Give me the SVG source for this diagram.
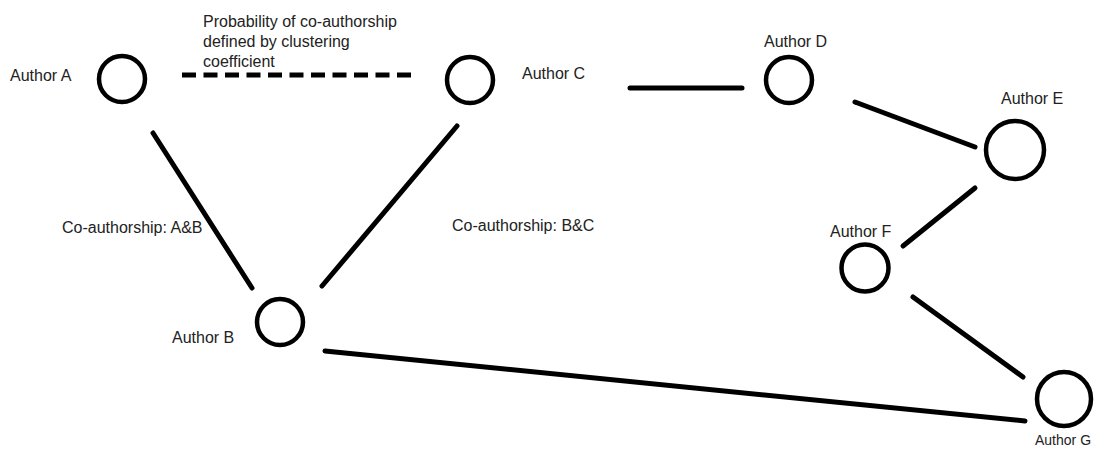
<svg xmlns="http://www.w3.org/2000/svg" width="1095" height="450" viewBox="0 0 1095 450">
<style>
.node{fill:none;stroke:#000;stroke-width:4.5}
.lbl{font-family:"Liberation Sans",Arial,sans-serif;font-size:16px;fill:#222}
.lbl.sm{font-size:14px}
.edge{stroke:#000;stroke-width:5;stroke-linecap:round;fill:none}
.dash{stroke:#000;stroke-width:5;fill:none;stroke-dasharray:14 7.5}
</style>
<rect width="1095" height="450" fill="#fff"/>
<g id="connectors">
<line class="dash" x1="182" y1="75" x2="417" y2="75"/>
<line class="edge" x1="153" y1="133" x2="252" y2="288"/>
<line class="edge" x1="457" y1="126" x2="322" y2="286"/>
<line class="edge" x1="630" y1="88" x2="742" y2="88"/>
<line class="edge" x1="855" y1="102" x2="975" y2="147"/>
<line class="edge" x1="975" y1="188" x2="903" y2="246"/>
<line class="edge" x1="913" y1="297" x2="1023" y2="377"/>
<line class="edge" x1="325" y1="351" x2="1025" y2="421"/>
</g>
<g id="edge-labels">
<text class="lbl" x="203" y="27">Probability of co-authorship</text>
<text class="lbl" x="203" y="47">defined by clustering</text>
<text class="lbl" x="203" y="67">coefficient</text>
<text class="lbl" x="62" y="233">Co-authorship: A&amp;B</text>
<text class="lbl" x="452" y="231">Co-authorship: B&amp;C</text>
</g>
<g id="author-a"><circle class="node" cx="122" cy="79" r="23"/><text class="lbl" x="10" y="81">Author A</text></g>
<g id="author-b"><circle class="node" cx="280" cy="322" r="23"/><text class="lbl" x="172" y="343">Author B</text></g>
<g id="author-c"><circle class="node" cx="470" cy="80" r="23"/><text class="lbl" x="522" y="79">Author C</text></g>
<g id="author-d"><circle class="node" cx="789" cy="80" r="23"/><text class="lbl" x="764" y="47">Author D</text></g>
<g id="author-e"><circle class="node" cx="1015" cy="150" r="29"/><text class="lbl" x="1001" y="104">Author E</text></g>
<g id="author-f"><circle class="node" cx="865" cy="268" r="23.5"/><text class="lbl" x="830" y="237">Author F</text></g>
<g id="author-g"><circle class="node" cx="1064" cy="399" r="27"/><text class="lbl sm" x="1035" y="445">Author G</text></g>
</svg>
